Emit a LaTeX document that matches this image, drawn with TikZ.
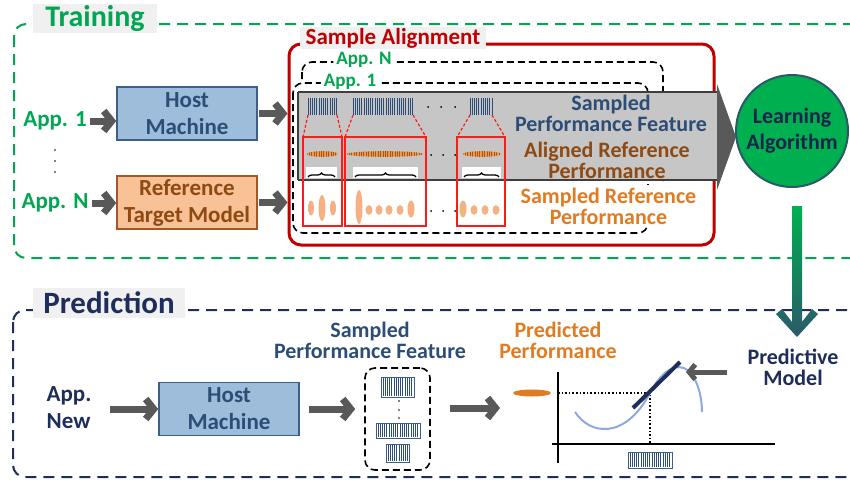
\documentclass[tikz,border=0pt]{standalone}
\usepackage{fontspec}
\setmainfont{Carlito}
\usetikzlibrary{arrows.meta,decorations.pathreplacing,calc}

\definecolor{cgreen}{HTML}{00A651}
\definecolor{cgreenfill}{HTML}{00B050}
\definecolor{cnavy}{HTML}{1F2D5C}
\definecolor{cblue}{HTML}{2C4D75}
\definecolor{cbrown}{HTML}{8E4A12}
\definecolor{corange}{HTML}{E07B22}
\definecolor{cred}{HTML}{C00000}
\definecolor{cbright}{HTML}{FF1A1A}
\definecolor{arrgray}{HTML}{595959}
\definecolor{hostfill}{HTML}{9DBDDB}
\definecolor{hostdraw}{HTML}{3A5F8A}
\definecolor{reffill}{HTML}{F8C196}
\definecolor{refdraw}{HTML}{A0582A}
\definecolor{peach}{HTML}{F4B183}
\definecolor{alfill}{HTML}{E89A55}
\definecolor{alline}{HTML}{A85510}
\definecolor{curveblue}{HTML}{8EA9DB}
\definecolor{tealdark}{HTML}{2A5A6A}
\definecolor{tagbg}{HTML}{F0F0F0}
\definecolor{bodygray}{HTML}{C6C6C6}

\newcommand\fT{\fontsize{30}{30}\selectfont\bfseries}
\newcommand\fB{\fontsize{23}{23}\selectfont\bfseries}
\newcommand\fM{\fontsize{23}{23}\selectfont\bfseries}
\newcommand\fS{\fontsize{19}{19}\selectfont\bfseries}
\newcommand\fTwo{\fontsize{22}{21}\selectfont\bfseries}

% vertical stripes between x1 and x2, from y1 to y2
\newcommand\stripes[4]{%
  \pgfmathtruncatemacro\nstr{(#3-#1)/2.2}%
  \foreach \i in {0,...,\nstr}{\draw[stripe] ({#1+\i*2.2},#2) -- ({#1+\i*2.2},#4);}}
% striped orange ellipse of the aligned reference row
\newcommand\alignedrow[3]{%
  \begin{scope}
    \fill[alfill] ({(#1+#2)/2},#3) ellipse ({(#2-#1)/2} and 2.8);
    \clip ({(#1+#2)/2},#3) ellipse ({(#2-#1)/2} and 2.8);
    \pgfmathtruncatemacro\nstr{(#2-#1)/2.4}%
    \foreach \i in {0,...,\nstr}{\draw[alline,line width=0.8] ({#1+\i*2.4},#3-4) -- ({#1+\i*2.4},#3+4);}
  \end{scope}}

\tikzset{
  garrow/.style={draw=arrgray, line width=7pt, -{Straight Barb[length=8pt,width=20pt]}},
  thinarrow/.style={draw=arrgray, line width=5pt, -{Straight Barb[length=6pt,width=15pt]}},
  tag/.style={fill=tagbg, inner sep=0pt},
  hostbox/.style={draw=hostdraw, fill=hostfill, line width=1.6pt, minimum width=140pt,
    minimum height=53pt, inner sep=0pt, text=cblue, align=center, font=\fB},
  refbox/.style={draw=refdraw, fill=reffill, line width=1.6pt, minimum width=140pt,
    minimum height=53pt, inner sep=0pt, text=cbrown, align=center, font=\fB},
  appframe/.style={draw=black, fill=white, line width=1.6pt, dash pattern=on 7pt off 4pt,
    rounded corners=10pt},
  redgroup/.style={draw=cbright, line width=1.5pt},
  reddash/.style={draw=cbright, line width=1.2pt, dash pattern=on 3pt off 2pt},
  stripe/.style={draw=cblue, line width=0.7pt},
  barbox/.style={draw=hostdraw, fill=white, line width=0.8pt},
  dot/.style={fill=black, circle, inner sep=0pt, minimum size=2pt},
  bracebar/.style={decorate, decoration={brace, amplitude=4pt}, line width=1.3pt},
  plain/.style={inner sep=0pt, align=center},
}

\begin{document}
\begin{tikzpicture}[x=1pt,y=-1pt]
\useasboundingbox (0,0) rectangle (850,479);
\clip (0,0) rectangle (850,479);

% ---------------- training ----------------
\draw[cgreen, line width=2pt, dash pattern=on 11pt off 7pt, rounded corners=12pt]
  (14,24) rectangle (880,258);
\node[tag, minimum width=124pt, minimum height=29pt, text=cgreen, font=\fT] (trn) at (95,18.5) {Training};

\node[plain, text=cgreen, font=\fM] (a1) at (55,121) {App. 1};
\node[plain, text=cgreen, font=\fM] (an) at (55,203) {App. N};
\foreach \yy in {150,161,172} \node[dot, minimum size=1.6pt] at (55,\yy) {};

\node[hostbox] (h1) at (187,113.5) {Host\\[4pt]Machine};
\node[refbox] (rt) at (187,202.5) {Reference\\[4pt]Target Model};

\draw[garrow] (a1.east) ++(3,0) coordinate (a1s) -- (a1s -| h1.west);
\draw[garrow] (an.east) ++(3,0) coordinate (ans) -- (ans -| rt.west);

% sample alignment frame
\node[draw=cred, line width=3pt, rounded corners=12pt, minimum width=425pt, minimum height=201pt]
  (sa) at (501.5,144.5) {};
\node[tag, minimum width=186pt, minimum height=22pt, text=cred, font=\fB] (sal) at (393,38) {Sample Alignment};

\draw[garrow] (h1.east) ++(1,0) coordinate (h1s) -- (h1s -| sa.west);
\draw[garrow] (rt.east) ++(1,0) coordinate (rts) -- (rts -| sa.west);

% one frame per application
\draw[appframe] (302,62) rectangle (663,220);
\node[fill=white, rounded corners=5pt, inner xsep=3pt, inner ysep=0.5pt, text=cgreen, font=\fS] (lbn) at (364,60) {App. N};
\draw[appframe] (293,83) rectangle (648,233);
\node[fill=white, rounded corners=5pt, inner xsep=3pt, inner ysep=0.5pt, text=cgreen, font=\fS] (lb1) at (350,82) {App. 1};

% block arrow toward the learner
\fill[bodygray] (298,92) rectangle (718,180);
\draw[arrgray!70!black, line width=2.5pt] (298,92) -- (718,92) (298,180) -- (718,180) (298,92) -- (298,180);
\fill[arrgray] (717,84) -- (736,137) -- (717,190) -- cycle;

\node[plain, text=cblue, font=\fTwo] (spf) at (611,113) {Sampled\\Performance Feature};
\node[plain, text=cbrown, font=\fTwo] (arp) at (607,160) {Aligned Reference\\Performance};
\node[fill=white, text=corange, align=center, font=\fTwo,
  minimum width=197pt, minimum height=42pt, inner sep=0pt]
  (srp) at (608.5,206) {Sampled Reference\\Performance};

% sampled feature bars
\stripes{308}{98}{337}{115}
\stripes{353}{98}{413}{115}
\stripes{470}{98}{492}{115}
\foreach \xx in {428,441,455} \node[dot] at (\xx,107) {};

% dashed zoom lines
\draw[reddash] (308,115) -- (303,137) (337,115) -- (342,137);
\draw[reddash] (353,115) -- (345,137) (413,115) -- (426,137);
\draw[reddash] (470,115) -- (457,137) (492,115) -- (505,137);

% aligned reference row
\alignedrow{307}{338}{154}
\alignedrow{347}{423}{154}
\alignedrow{463}{501}{154}
\foreach \xx in {431,443,455} \node[dot] at (\xx,155) {};

% braces
\fill[white] (306,167) rectangle (337,178);
\fill[white] (353,167) rectangle (418,178);
\fill[white] (462,167) rectangle (501,178);
\draw[bracebar] (308,177) -- (335,177);
\draw[bracebar] (355,177) -- (416,177);
\draw[bracebar] (464,177) -- (499,177);

% sampled reference row
\fill[peach] (311,208) ellipse (3 and 7.5) (322,208) ellipse (3.5 and 13) (333,208) ellipse (3 and 7.5);
\fill[peach] (359,207) ellipse (3.5 and 17);
\foreach \xx in {369,379,389,400} \fill[peach] (\xx,210) ellipse (3.5 and 4.8);
\fill[peach] (411,209) ellipse (3.5 and 8.5);
\fill[peach] (463,209) ellipse (3.5 and 8.5);
\foreach \xx in {474,485,496} \fill[peach] (\xx,210) ellipse (3.5 and 4.8);
\foreach \xx in {431,443,455} \node[dot] at (\xx,211) {};

% alignment groups
\draw[redgroup] (303,137) rectangle (342,226);
\draw[redgroup] (345,137) rectangle (426,226);
\draw[redgroup] (457,137) rectangle (505,226);

% learner
\node[circle, fill=cgreenfill, draw=tealdark, line width=2pt, minimum size=112pt, inner sep=0pt,
  text=cnavy!80!black, align=center, font=\fontsize{22}{26}\selectfont\bfseries] (la) at (792,131)
  {Learning\\Algorithm};

% ---------------- prediction ----------------
\draw[cnavy, line width=2pt, dash pattern=on 11pt off 7pt, rounded corners=12pt]
  (13,310) rectangle (880,477);
\node[tag, minimum width=152pt, minimum height=30pt, text=cnavy, font=\fontsize{31}{31}\selectfont\bfseries]
  (prl) at (109,303) {Prediction};

\node[inner sep=0pt, text=cnavy, align=left, font=\fontsize{23}{27}\selectfont\bfseries] (anew) at (69,408) {App.\\New};
\node[hostbox] (h2) at (229,409) {Host\\[4pt]Machine};
\draw[garrow] (anew.east) ++(18,1) coordinate (anw) -- (anw -| h2.west);

\node[draw=black, line width=1.6pt, dash pattern=on 7pt off 4pt, rounded corners=10pt,
  minimum width=65pt, minimum height=102pt] (sf) at (397.5,419) {};
\node[plain, text=cblue, font=\fTwo] (sfl) at (370,340)
  {Sampled\\Performance Feature};
\draw[garrow] (h2.east) ++(9,0) coordinate (h2s) -- ([xshift=-9pt]h2s -| sf.west);

\draw[barbox] (381,377) rectangle (414,397); \stripes{383}{378}{413}{396}
\draw[barbox] (376,423) rectangle (420,438); \stripes{378}{424}{419}{437}
\draw[barbox] (386,444) rectangle (409,462); \stripes{388}{445}{408}{461}
\foreach \yy in {401,410,418} \node[dot, minimum size=1.6pt] at (399,\yy) {};

\coordinate (sfo) at (450,408);
\coordinate (cht) at (500,408);
\draw[garrow] (sfo) -- (cht);

\node[plain, text=corange, font=\fTwo] (ppl) at (558,340)
  {Predicted\\Performance};
\fill[corange] (532,393) ellipse (19 and 3.5);

% chart
\draw[black, line width=1.2pt] (558,372) -- (558,463);
\draw[black, line width=1.2pt] (552,444) -- (775,444);
\draw[black, line width=1.6pt, dotted] (558,393) -- (650,393) -- (650,444);
\draw[curveblue, line width=2pt] (575,412) .. controls (590,435) and (625,440) .. (650,393)
  .. controls (660,374) and (672,364) .. (684,368) .. controls (696,373) and (702,395) .. (702,412);
\draw[cnavy, line width=4pt] (633,408) -- (680,362);
\draw[barbox] (628,452) rectangle (672,468); \stripes{630}{453}{671}{467}

\node[plain, text=cnavy, font=\fTwo] (pm) at (793,367)
  {Predictive\\Model};
\coordinate (pms) at (727,372);
\coordinate (pmt) at (686,372);
\draw[thinarrow] (pms) -- (pmt);

% learner to model
\coordinate (gt) at ($(la.south)+(5,18)$);
\shade[top color=cgreenfill, bottom color=tealdark]
  (gt) ++(-5,0) -- ++(10,0) -- ++(0,116) -- ++(10,-13) -- ++(6,5) -- ++(-21,23)
  -- ++(-21,-23) -- ++(6,-5) -- ++(10,13) -- cycle;
\end{tikzpicture}
\end{document}
